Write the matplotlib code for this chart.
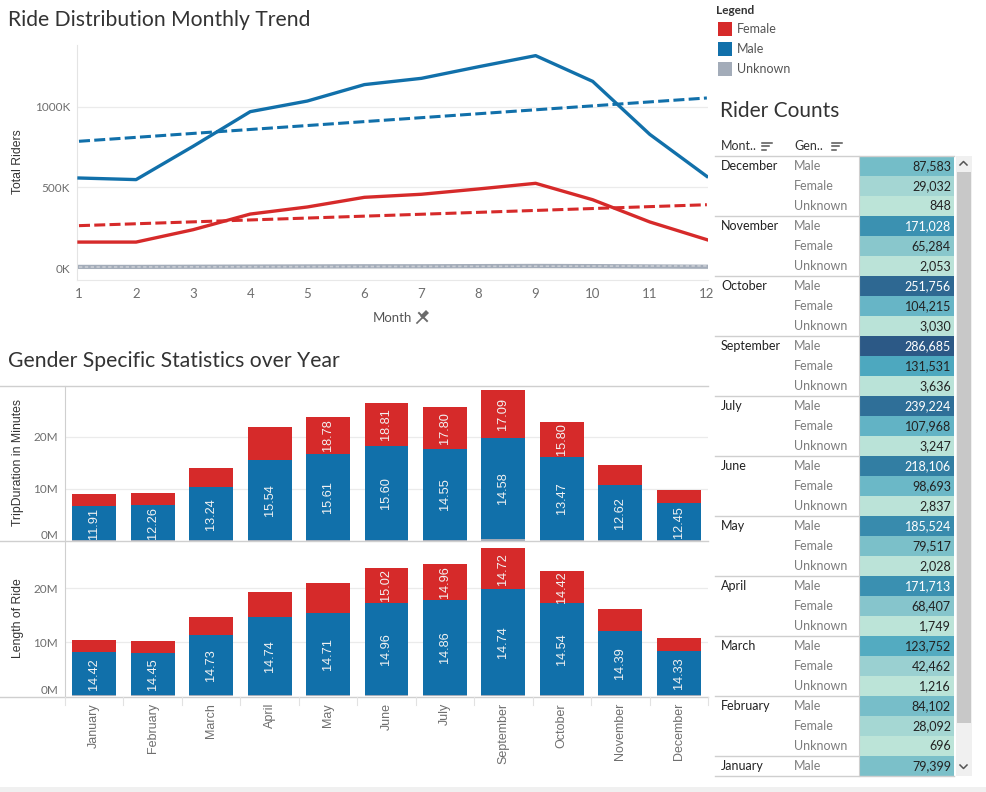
import matplotlib
matplotlib.use('Agg')
import matplotlib.pyplot as plt
import numpy as np
from matplotlib.colors import LinearSegmentedColormap
from matplotlib.patches import Rectangle, Polygon

# ---------------- data ----------------
line_months = [1, 2, 3, 4, 5, 6, 7, 8, 9, 10, 11, 12]
male_riders_k = [559, 549, 756, 971, 1037, 1139, 1178, 1250, 1319, 1159, 830, 569]
female_riders_k = [161, 161, 238, 335, 379, 439, 458, 491, 526, 424, 286, 176]
unknown_riders_k = [7, 7, 8, 9, 10, 11, 11, 12, 13, 12, 10, 8]
trend_months = [1, 12]
male_trend_k = [787, 1056]
female_trend_k = [263, 393]
unknown_trend_k = [6, 13]

bar_months = ['January', 'February', 'March', 'April', 'May', 'June', 'July',
              'September', 'October', 'November', 'December']
dur_unknown_m = [0.10, 0.12, 0.15, 0.15, 0.18, 0.18, 0.20, 0.35, 0.20, 0.15, 0.10]
dur_male_m = [6.70, 6.83, 10.15, 15.35, 16.50, 18.00, 17.50, 19.45, 16.00, 10.55, 7.20]
dur_female_m = [2.30, 2.35, 3.70, 6.40, 7.20, 8.40, 8.10, 9.20, 6.70, 4.00, 2.60]
dur_male_avg = [11.91, 12.26, 13.24, 15.54, 15.61, 15.60, 14.55, 14.58, 13.47, 12.62, 12.45]
dur_female_avg = [None, None, None, None, 18.78, 18.81, 17.80, 17.09, 15.80, None, None]

len_unknown_m = [0.10, 0.12, 0.15, 0.15, 0.15, 0.15, 0.15, 0.15, 0.15, 0.15, 0.10]
len_male_m = [8.10, 7.78, 11.15, 14.45, 15.25, 17.15, 17.75, 19.65, 17.05, 11.95, 8.30]
len_female_m = [2.20, 2.30, 3.40, 4.70, 5.60, 6.50, 6.60, 7.70, 6.00, 4.10, 2.40]
len_male_avg = [14.42, 14.45, 14.73, 14.74, 14.71, 14.96, 14.86, 14.74, 14.54, 14.39, 14.33]
len_female_avg = [None, None, None, None, None, 15.02, 14.96, 14.72, 14.42, None, None]

table_months = ['December', 'November', 'October', 'September', 'July', 'June',
                'May', 'April', 'March', 'February', 'January']
table_male = [87583, 171028, 251756, 286685, 239224, 218106, 185524, 171713, 123752, 84102, 79399]
table_female = [29032, 65284, 104215, 131531, 107968, 98693, 79517, 68407, 42462, 28092]
table_unknown = [848, 2053, 3030, 3636, 3247, 2837, 2028, 1749, 1216, 696]

legend_labels = ['Female', 'Male', 'Unknown']

# ---------------- style ----------------
BLUE = '#1170aa'
RED = '#d62a2a'
GRAY = '#a3acb9'
TXT = '#333333'
TICK = '#6e6e6e'
GRID = '#ebebeb'
LINE = '#cfcfcf'
TITLE_F = ['Lato', 'DejaVu Sans']
AX_F = ['Liberation Sans', 'DejaVu Sans']

W, H = 987, 792
fig = plt.figure(figsize=(W / 100, H / 100), dpi=100)
fig.patch.set_facecolor('white')


def box(x0, y0, x1, y1):
    return [x0 / W, 1 - y1 / H, (x1 - x0) / W, (y1 - y0) / H]


# ---------------- line chart ----------------
ax1 = fig.add_axes(box(77, 45, 708, 280))
ax1.set_facecolor('none')
for yv in [0, 500, 1000]:
    ax1.axhline(yv, color=GRID, lw=0.9, zorder=0)
ax1.plot(line_months, unknown_riders_k, color=GRAY, lw=3.0, zorder=2)
ax1.plot(trend_months, unknown_trend_k, color='#c9cdd4', lw=1.2, ls=(0, (2, 1.5)), zorder=2)
ax1.plot(trend_months, female_trend_k, color=RED, lw=2.2, ls=(0, (3.6, 1.4)), zorder=3)
ax1.plot(trend_months, male_trend_k, color=BLUE, lw=2.2, ls=(0, (3.6, 1.4)), zorder=3)
ax1.plot(line_months, female_riders_k, color=RED, lw=2.4, zorder=4)
ax1.plot(line_months, male_riders_k, color=BLUE, lw=2.4, zorder=4)
ax1.set_xlim(0.965, 12.02)
ax1.set_ylim(-74.5, 1385)
ax1.set_xticks(line_months)
ax1.set_xticklabels([str(m) for m in line_months], fontfamily=TITLE_F, fontsize=9.5, color=TICK)
ax1.set_yticks([0, 500, 1000])
ax1.set_yticklabels(['0K', '500K', '1000K'], fontfamily=TITLE_F, fontsize=8.5, color=TICK)
ax1.tick_params(axis='both', length=0)
ax1.tick_params(axis='x', pad=6)
ax1.tick_params(axis='y', pad=5)
for s in ['top', 'right']:
    ax1.spines[s].set_visible(False)
ax1.spines['left'].set_color('#e4e4e4')
ax1.spines['bottom'].set_color('#e8e8e8')


# ---------------- bar charts ----------------
def bar_panel(rect, unk, male, female, male_lab, fem_lab, ymax, show_x):
    ax = fig.add_axes(rect)
    ax.set_facecolor('none')
    x = np.arange(len(bar_months))
    unk = np.array(unk)
    male = np.array(male)
    female = np.array(female)
    for yv in [10, 20]:
        ax.axhline(yv, color=GRID, lw=0.9, zorder=0)
    ax.bar(x, unk, width=0.75, color=GRAY, zorder=2)
    ax.bar(x, male, width=0.75, bottom=unk, color=BLUE, zorder=2)
    ax.bar(x, female, width=0.75, bottom=unk + male, color=RED, zorder=2)
    for i in range(len(x)):
        ax.text(x[i], unk[i] + male[i] / 2, f'{male_lab[i]:.2f}', rotation=90,
                ha='center', va='center', color='#f2f2f2', fontsize=9.2,
                fontfamily=AX_F, zorder=3)
        if fem_lab[i] is not None:
            ax.text(x[i], unk[i] + male[i] + female[i] / 2, f'{fem_lab[i]:.2f}',
                    rotation=90, ha='center', va='center', color='#f2f2f2',
                    fontsize=9.2, fontfamily=AX_F, zorder=3)
    ax.set_xlim(-0.5, len(x) - 0.5)
    ax.set_ylim(0, ymax)
    ax.set_yticks([0, 10, 20])
    ax.set_yticklabels(['0M', '10M', '20M'], fontfamily=TITLE_F, fontsize=8.5, color=TICK)
    ax.get_yticklabels()[0].set_va('bottom')
    ax.tick_params(axis='both', length=0)
    ax.tick_params(axis='y', pad=5)
    if show_x:
        ax.set_xticks(x)
        ax.set_xticklabels(bar_months, rotation=90, fontfamily=AX_F, fontsize=9, color=TICK)
        ax.tick_params(axis='x', pad=5)
    else:
        ax.set_xticks([])
    for s in ['top', 'right', 'bottom']:
        ax.spines[s].set_visible(False)
    ax.spines['left'].set_color(LINE)
    return ax


ax2 = bar_panel(box(65, 386, 708, 541), dur_unknown_m, dur_male_m, dur_female_m,
                dur_male_avg, dur_female_avg, 29.8, False)
ax3 = bar_panel(box(65, 541, 708, 696), len_unknown_m, len_male_m, len_female_m,
                len_male_avg, len_female_avg, 28.8, True)

# ---------------- overlay (titles, legend, table) ----------------
ov = fig.add_axes([0, 0, 1, 1])
ov.set_xlim(0, W)
ov.set_ylim(H, 0)
ov.axis('off')
ov.set_facecolor('none')

ov.text(8, 20, 'Ride Distribution Monthly Trend', fontsize=15.2, fontfamily=TITLE_F,
        color=TXT, va='center', ha='left')
ov.text(8, 361, 'Gender Specific Statistics over Year', fontsize=15.2, fontfamily=TITLE_F,
        color=TXT, va='center', ha='left')
ov.text(720, 111, 'Rider Counts', fontsize=15, fontfamily=TITLE_F, color=TXT,
        va='center', ha='left')

ov.text(18, 162, 'Total Riders', rotation=90, fontsize=8.8, fontfamily=AX_F,
        color=TXT, ha='center', va='center')
ov.text(18, 463, 'TripDuration in Minutes', rotation=90, fontsize=8.8, fontfamily=AX_F,
        color=TXT, ha='center', va='center')
ov.text(18, 618, 'Length of Ride', rotation=90, fontsize=8.8, fontfamily=AX_F,
        color=TXT, ha='center', va='center')
ov.text(392, 318, 'Month', fontsize=9.5, fontfamily=TITLE_F, color='#555555',
        ha='center', va='center')
# pin icon
ov.add_patch(Polygon([[420, 316], [426, 310], [429, 313], [423, 319]], closed=True,
                     color='#6b6b6b', lw=0))
ov.plot([422, 417], [318, 323], color='#6b6b6b', lw=1.2)
ov.plot([419, 427], [313, 321], color='#6b6b6b', lw=1.4)

# panel border lines
for yv in [386, 541, 696.5]:
    ov.plot([0, 708], [yv, yv], color=LINE, lw=1.0)
for i in range(len(bar_months) + 1):
    xv = 65 + i * (643.0 / len(bar_months))
    ov.plot([xv, xv], [696.5, 705], color='#e2e2e2', lw=0.8)

# legend
ov.text(716, 10, 'Legend', fontsize=8.5, fontweight='bold', fontfamily=TITLE_F,
        color=TXT, va='center', ha='left')
for i, (lab, col) in enumerate(zip(legend_labels, [RED, BLUE, GRAY])):
    yc = 29 + 20 * i
    ov.add_patch(Rectangle((718, yc - 7), 14, 14, color=col, lw=0))
    ov.text(737, yc, lab, fontsize=9, fontfamily=TITLE_F, color='#555555',
            va='center', ha='left')

# table
cmap = LinearSegmentedColormap.from_list('blueteal', [
    (0.0, '#bce4d8'), (0.10, '#a4d6d3'), (0.23, '#88c6cc'), (0.30, '#74bdc8'),
    (0.36, '#67b5c6'), (0.45, '#4ea9c0'), (0.60, '#3a90b1'), (0.76, '#327ea3'),
    (0.86, '#2e6a94'), (1.0, '#2c5986')])
all_vals = table_male + table_female + table_unknown
vmin, vmax = min(all_vals), max(all_vals)

ov.text(721, 146, 'Mont..', fontsize=9, fontfamily=TITLE_F, color=TXT, va='center', ha='left')
ov.text(794, 146, 'Gen..', fontsize=9, fontfamily=TITLE_F, color=TXT, va='center', ha='left')
for sx in [762, 832]:
    for k, wdt in enumerate([10, 7, 4]):
        ov.plot([sx, sx + wdt], [142.5 + 3.5 * k, 142.5 + 3.5 * k], color='#555555', lw=1.1)

top = 155.7
rh = 20.0
max_y = 776
row = 0
ov.plot([715, 954], [top, top], color=LINE, lw=1.0)
for gi, mname in enumerate(table_months):
    entries = [('Male', table_male[gi])]
    if gi < len(table_female):
        entries.append(('Female', table_female[gi]))
    if gi < len(table_unknown):
        entries.append(('Unknown', table_unknown[gi]))
    gy = top + row * rh
    if gi > 0:
        ov.plot([715, 858], [gy, gy], color=LINE, lw=1.0)
    for k, (gname, val) in enumerate(entries):
        y0 = top + row * rh
        if y0 + rh > max_y + 1:
            break
        yc = y0 + rh / 2
        if k == 0:
            ov.text(721, yc, mname, fontsize=9, fontfamily=TITLE_F, color='#222222',
                    va='center', ha='left')
        ov.text(794, yc, gname, fontsize=9, fontfamily=TITLE_F, color='#7d7d7d',
                va='center', ha='left')
        norm = (val - vmin) / (vmax - vmin)
        ov.add_patch(Rectangle((859, y0), 95, rh, color=cmap(norm), lw=0))
        tc = 'white' if val >= 150000 else '#222222'
        ov.text(951, yc + 0.5, f'{val:,}', fontsize=9, fontfamily=TITLE_F, color=tc,
                va='center', ha='right')
        row += 1
ov.plot([715, 954], [max_y, max_y], color=LINE, lw=1.0)
ov.plot([858.5, 858.5], [top, max_y], color=LINE, lw=0.8)

# scrollbar
ov.add_patch(Rectangle((956, 156), 16, 620, color='#f0f0f0', lw=0))
ov.add_patch(Rectangle((957, 172), 14, 551, color='#c8c8c8', lw=0))
ov.plot([960, 963.5, 967], [165, 161.5, 165], color='#555555', lw=1.1)
ov.plot([960, 963.5, 967], [765, 768.5, 765], color='#555555', lw=1.1)

# bottom band
ov.add_patch(Rectangle((0, 787), W, 5, color='#f0f0f0', lw=0))

fig.savefig('out.png', dpi=100, facecolor='white')
